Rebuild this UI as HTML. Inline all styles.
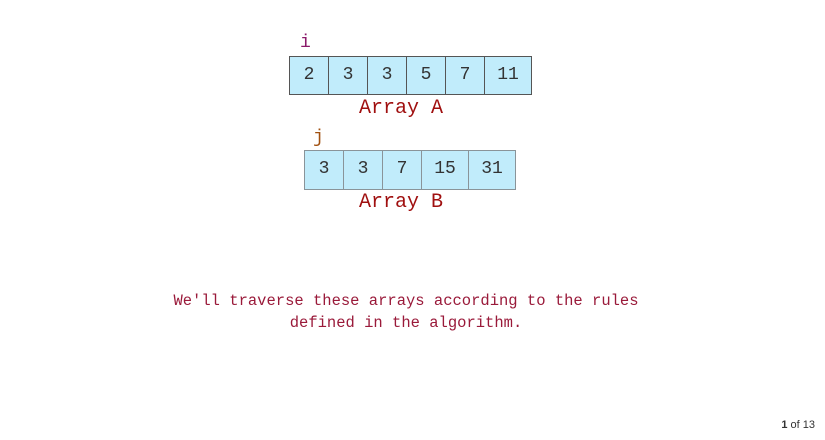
<!DOCTYPE html>
<html><head><style>
body{margin:0;width:825px;height:440px;background:#fff;position:relative;overflow:hidden;font-family:"Liberation Mono",monospace}
.c{position:absolute;box-sizing:border-box;background:#c1ecfb;border:1px solid #555;text-align:center;font-size:18px;color:#333;line-height:36px}
.b{border-color:#8a9499}
.t{position:absolute;color:#a01010;white-space:nowrap}
</style></head><body>
<div class="t" style="left:300px;top:33px;font-size:18px;color:#8b1a6a">i</div>
<div class="c" style="left:289px;top:56px;width:40px;height:39px">2</div>
<div class="c" style="left:328px;top:56px;width:40px;height:39px">3</div>
<div class="c" style="left:367px;top:56px;width:40px;height:39px">3</div>
<div class="c" style="left:406px;top:56px;width:40px;height:39px">5</div>
<div class="c" style="left:445px;top:56px;width:40px;height:39px">7</div>
<div class="c" style="left:484px;top:56px;width:48px;height:39px">11</div>
<div class="t" style="left:359px;top:97px;font-size:20px">Array A</div>
<div class="t" style="left:313px;top:128px;font-size:18px;color:#a05010">j</div>
<div class="c b" style="left:304px;top:150px;width:40px;height:40px">3</div>
<div class="c b" style="left:343px;top:150px;width:40px;height:40px">3</div>
<div class="c b" style="left:382px;top:150px;width:40px;height:40px">7</div>
<div class="c b" style="left:421px;top:150px;width:48px;height:40px">15</div>
<div class="c b" style="left:468px;top:150px;width:48px;height:40px">31</div>
<div class="t" style="left:359px;top:191px;font-size:20px">Array B</div>
<div class="t" style="left:0;width:812px;top:290px;font-size:15.5px;line-height:22px;text-align:center;color:#9a1a3a">We'll traverse these arrays according to the rules<br>defined in the algorithm.</div>
<div style="position:absolute;right:10px;top:419px;font:11px 'Liberation Sans',sans-serif;color:#333"><b>1</b> of 13</div>
</body></html>
